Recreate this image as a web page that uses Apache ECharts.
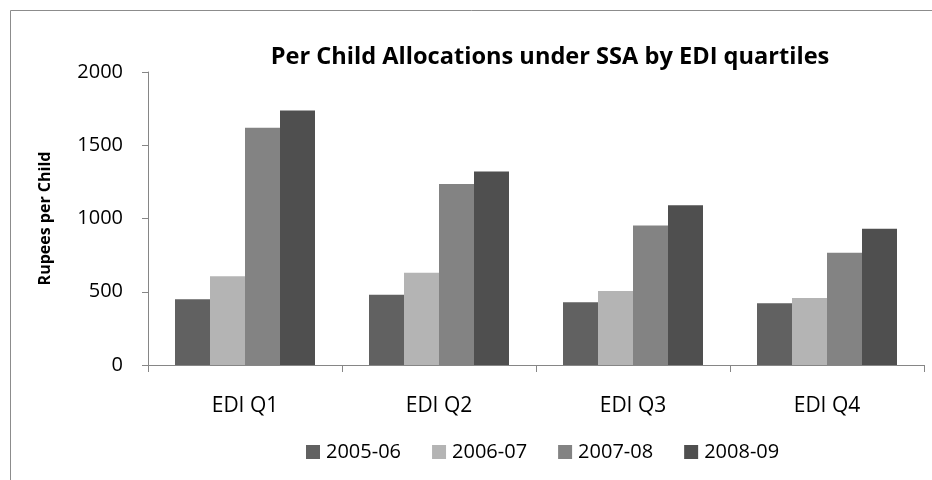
<!DOCTYPE html>
<html>
<head>
<meta charset="utf-8">
<script src="https://cdn.jsdelivr.net/npm/echarts@6/dist/echarts.min.js"></script>
<style>
  html, body { margin: 0; padding: 0; background: #ffffff; }
  #chart { width: 932px; height: 480px; }
</style>
</head>
<body>
<div id="chart"></div>
<script>
// EDI quartile groups along the horizontal axis
const categories = ['EDI Q1', 'EDI Q2', 'EDI Q3', 'EDI Q4'];

// Per-child allocation (Rupees) for each financial year
const years = ['2005-06', '2006-07', '2007-08', '2008-09'];
const fy2005 = [448, 480, 428, 421];
const fy2006 = [605, 630, 505, 457];
const fy2007 = [1620, 1235, 953, 767];
const fy2008 = [1738, 1320, 1090, 930];

const yTicks = { min: 0, max: 2000, step: 500 };

const barColors = ['#616161', '#b4b4b4', '#838383', '#4f4f4f'];
const seriesValues = [fy2005, fy2006, fy2007, fy2008];

const FONT = '"Open Sans", sans-serif';
const axisGrey = '#868686';

const chart = echarts.init(document.getElementById('chart'), null, { renderer: 'canvas' });

chart.setOption({
  animation: false,
  backgroundColor: '#ffffff',
  title: {
    text: 'Per Child Allocations under SSA by EDI quartiles',
    left: 545,
    textAlign: 'center',
    top: 40,
    textStyle: { fontFamily: FONT, fontWeight: 'bold', fontSize: 23.6, color: '#000000' }
  },
  legend: {
    data: years,
    left: 301,
    top: 437,
    itemWidth: 14,
    itemHeight: 14,
    itemGap: 31,
    icon: 'rect',
    textStyle: { fontFamily: FONT, fontSize: 20, color: '#000000', padding: [0, 0, 0, 1] }
  },
  grid: { left: 148, right: 8, top: 72, bottom: 115, containLabel: false },
  xAxis: {
    type: 'category',
    data: categories,
    axisLine: { lineStyle: { color: axisGrey, width: 1 } },
    axisTick: { show: true, length: 7, lineStyle: { color: axisGrey } },
    axisLabel: { fontFamily: FONT, fontSize: 21, color: '#000000', margin: 31 }
  },
  yAxis: {
    type: 'value',
    min: yTicks.min,
    max: yTicks.max,
    interval: yTicks.step,
    name: 'Rupees per Child',
    nameLocation: 'middle',
    nameGap: 95,
    nameRotate: 90,
    nameTextStyle: { fontFamily: FONT, fontWeight: 'bold', fontSize: 16, color: '#000000' },
    axisLine: { show: true, lineStyle: { color: axisGrey, width: 1 } },
    axisTick: { show: true, length: 6, lineStyle: { color: axisGrey } },
    splitLine: { show: false },
    axisLabel: {
      fontFamily: FONT, fontSize: 20, color: '#000000', margin: 25,
      formatter: (v) => String(v)
    }
  },
  series: years.map((y, i) => ({
    name: y,
    type: 'bar',
    data: seriesValues[i],
    barWidth: 35,
    barGap: '0%',
    itemStyle: { color: barColors[i] }
  })),
  graphic: [{
    type: 'rect',
    shape: { x: 10.5, y: 10.5, width: 1000, height: 1000 },
    style: { fill: null, stroke: '#8c8c8c', lineWidth: 1 },
    silent: true
  }]
});
</script>
</body>
</html>
